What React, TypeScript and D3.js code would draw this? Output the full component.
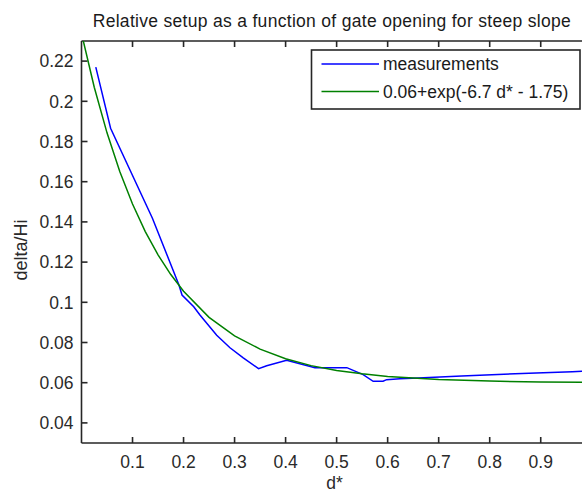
import React from "react";
import * as d3 from "d3";

const title = "Relative setup as a function of gate opening for steep slope";
const xLabel = "d*";
const yLabel = "delta/Hi";
const seriesNames = ["measurements", "0.06+exp(-6.7 d* - 1.75)"];
const seriesColors = ["#0000ff", "#008000"];

const measD = [0.028, 0.057, 0.139, 0.191, 0.197, 0.22, 0.2325, 0.265, 0.291, 0.317, 0.347, 0.363, 0.402, 0.4575, 0.52, 0.552, 0.5716, 0.591, 0.598, 0.624, 0.66, 0.745, 0.816, 0.891, 0.962, 1.0];
const measV = [0.217, 0.1866, 0.1418, 0.1086, 0.1036, 0.0978, 0.0936, 0.0836, 0.0774, 0.0724, 0.067, 0.0684, 0.0712, 0.0675, 0.0675, 0.064, 0.0607, 0.0607, 0.0615, 0.062, 0.0624, 0.0633, 0.0641, 0.0648, 0.0655, 0.0658];

const fitD = [0, 0.025, 0.05, 0.075, 0.1, 0.125, 0.15, 0.175, 0.2, 0.25, 0.3, 0.35, 0.4, 0.45, 0.5, 0.55, 0.6, 0.7, 0.8, 0.9, 1.0];
const fitV = [0.2338, 0.207, 0.1843, 0.1651, 0.1489, 0.1352, 0.1236, 0.1138, 0.1055, 0.0925, 0.0833, 0.0767, 0.0719, 0.0685, 0.0661, 0.0644, 0.0631, 0.0616, 0.0608, 0.0604, 0.0602];

const xTicks = [0.1, 0.2, 0.3, 0.4, 0.5, 0.6, 0.7, 0.8, 0.9];
const yTicks = [0.04, 0.06, 0.08, 0.1, 0.12, 0.14, 0.16, 0.18, 0.2, 0.22];

const W = 582;
const H = 492;
const L = 81.5;
const R = 591.75;
const T = 41;
const B = 443;
const FONT = "Arial, 'Liberation Sans', Helvetica, sans-serif";
const FS = 17.5;
const AX = "#262626";

export default function App() {
  const x = d3.scaleLinear().domain([0, 1]).range([L, R]);
  const y = d3.scaleLinear().domain([0.03, 0.23]).range([B, T]);
  const line = d3
    .line<[number, number]>()
    .x((d) => x(d[0]))
    .y((d) => y(d[1]));
  const meas = measD.map((d, i) => [d, measV[i]] as [number, number]);
  const fit = fitD.map((d, i) => [d, fitV[i]] as [number, number]);
  const fmtY = (v: number) => String(+v.toFixed(2));
  const fmtX = (v: number) => String(+v.toFixed(1));

  const lgX = 311.5, lgY = 50, lgW = 268.5, lgH = 59;
  const lgRows = [64, 91.5];

  return (
    <svg
      width={W}
      height={H}
      style={{ position: "absolute", left: 0, top: 0, background: "#fff" }}
      fontFamily={FONT}
    >
      <defs>
        <clipPath id="plot">
          <rect x={L} y={T} width={R - L} height={B - T} />
        </clipPath>
      </defs>
      <rect x={0} y={0} width={W} height={H} fill="#fff" />
      <text x={331.7} y={26.5} textAnchor="middle" fontSize={FS} fill="#1a1a1a" textLength={478} lengthAdjust="spacing">
        {title}
      </text>
      <g stroke={AX} strokeWidth={1.6} fill="none">
        <line x1={L} y1={T} x2={R} y2={T} />
        <line x1={L} y1={B} x2={R} y2={B} />
        <line x1={L} y1={T} x2={L} y2={B} />
        <line x1={R} y1={T} x2={R} y2={B} />
        {xTicks.map((t) => (
          <g key={"xt" + t}>
            <line x1={x(t)} x2={x(t)} y1={B} y2={B - 6} />
            <line x1={x(t)} x2={x(t)} y1={T} y2={T + 6} />
          </g>
        ))}
        {yTicks.map((t) => (
          <g key={"yt" + t}>
            <line x1={L} x2={L + 6} y1={y(t)} y2={y(t)} />
            <line x1={R} x2={R - 6} y1={y(t)} y2={y(t)} />
          </g>
        ))}
      </g>
      {xTicks.map((t) => (
        <text key={"xl" + t} x={x(t)} y={468} textAnchor="middle" fontSize={FS} fill="#2a2a2a">
          {fmtX(t)}
        </text>
      ))}
      {yTicks.map((t) => (
        <text key={"yl" + t} x={73.5} y={y(t) + 6.3} textAnchor="end" fontSize={FS} fill="#2a2a2a">
          {fmtY(t)}
        </text>
      ))}
      <text x={(L + R) / 2 - 2} y={489} textAnchor="middle" fontSize={FS} fill="#2a2a2a">
        {xLabel}
      </text>
      <text
        transform={`translate(26.5, 250) rotate(-90)`}
        textAnchor="middle"
        fontSize={18}
        fill="#2a2a2a"
      >
        {yLabel}
      </text>
      <g clipPath="url(#plot)" fill="none" strokeWidth={1.5}>
        <path d={line(meas) || ""} stroke={seriesColors[0]} />
        <path d={line(fit) || ""} stroke={seriesColors[1]} />
      </g>
      <rect x={lgX} y={lgY} width={lgW} height={lgH} fill="#fff" stroke={AX} strokeWidth={1.6} />
      {seriesNames.map((n, i) => (
        <g key={n}>
          <line x1={321.5} x2={379} y1={lgRows[i]} y2={lgRows[i]} stroke={seriesColors[i]} strokeWidth={1.5} />
          <text x={383} y={lgRows[i] + 6.3} fontSize={FS} fill="#1a1a1a">
            {n}
          </text>
        </g>
      ))}
    </svg>
  );
}
